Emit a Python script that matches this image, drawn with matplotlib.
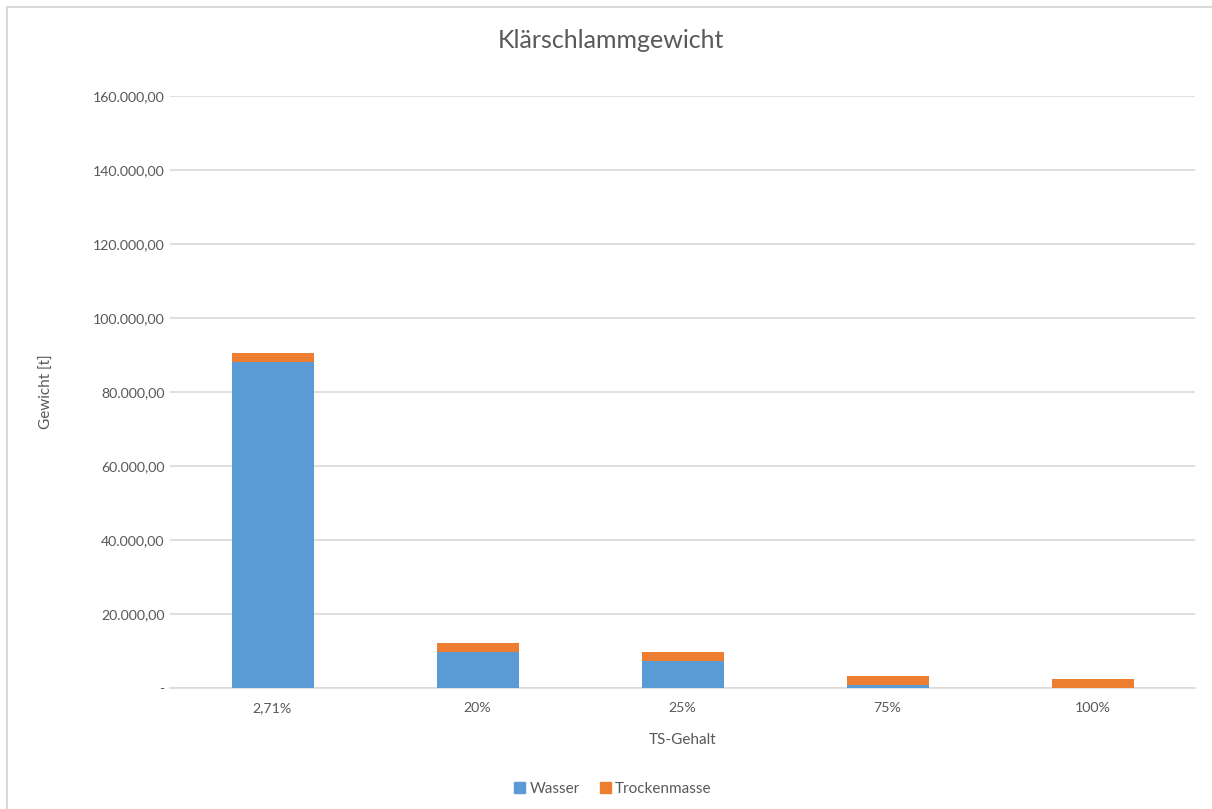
import matplotlib
matplotlib.use("Agg")
import matplotlib.pyplot as plt
from matplotlib.lines import Line2D
from matplotlib.patches import Patch
import numpy as np

categories = ["2,71%", "20%", "25%", "75%", "100%"]
wasser = [88000, 9800, 7350, 820, 0]
trockenmasse = [2450, 2450, 2450, 2450, 2450]
yticks = [0, 20000, 40000, 60000, 80000, 100000, 120000, 140000, 160000]
ytick_labels = ["-", "20.000,00", "40.000,00", "60.000,00", "80.000,00",
                "100.000,00", "120.000,00", "140.000,00", "160.000,00"]

plt.rcParams['font.family'] = ['Lato', 'DejaVu Sans']
blue = "#5B9BD5"
orange = "#ED7D31"
grey_text = "#595959"
grid_col = "#D9D9D9"

fig = plt.figure(figsize=(12.12, 8.09), dpi=100)
ax = fig.add_axes([170/1212, 1-688/809, (1195-170)/1212, (688-96)/809])

x = np.arange(len(categories))
ax.bar(x, wasser, width=0.4, color=blue, zorder=3)
ax.bar(x, trockenmasse, width=0.4, bottom=wasser, color=orange, zorder=3)

ax.set_xlim(-0.5, len(categories) - 0.5)
ax.set_ylim(0, 160000)
ax.set_yticks(yticks)
ax.set_yticklabels(ytick_labels)
ax.set_xticks(x)
ax.set_xticklabels(categories)
ax.yaxis.grid(True, color=grid_col, linewidth=1.2, zorder=0)
ax.set_axisbelow(True)
for s in ["top", "right", "left"]:
    ax.spines[s].set_visible(False)
ax.spines["bottom"].set_color(grid_col)
ax.spines["bottom"].set_linewidth(1.2)
ax.tick_params(axis="both", length=0, labelsize=10.2, labelcolor=grey_text)
ax.tick_params(axis="y", pad=4)
ax.tick_params(axis="x", pad=10)

ax.set_xlabel("TS-Gehalt", fontsize=11, color=grey_text, labelpad=14)
ax.set_ylabel("Gewicht [t]", fontsize=11, color=grey_text, labelpad=28)

fig.text(611/1212, 1-40/809, "Klärschlammgewicht", ha="center", va="center",
         fontsize=18, color=grey_text, fontweight="normal")

handles = [Patch(color=blue, label="Wasser"), Patch(color=orange, label="Trockenmasse")]
fig.legend(handles=handles, loc="center", bbox_to_anchor=(613/1212, 1-789/809),
           ncol=2, frameon=False, fontsize=11, labelcolor=grey_text,
           handlelength=0.7, handleheight=0.7, handletextpad=0.3, columnspacing=1.3)

# figure border (top and left visible)
fig.add_artist(Line2D([7/1212, 1.0], [1-7/809, 1-7/809], color=grid_col, linewidth=1.5,
                      transform=fig.transFigure))
fig.add_artist(Line2D([7/1212, 7/1212], [0, 1-7/809], color=grid_col, linewidth=1.5,
                      transform=fig.transFigure))

fig.savefig("out.png", dpi=100)
